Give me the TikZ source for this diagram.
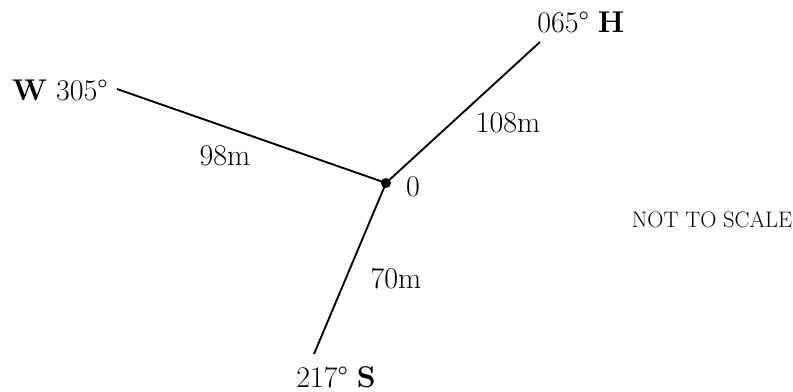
\documentclass[tikz,border=0pt]{standalone}
\usepackage{fontspec}
\begin{document}
\begin{tikzpicture}[x=0.75pt,y=-0.75pt,
  lbl/.style={inner sep=0pt,font=\fontsize{22.5}{26}\selectfont},
  small/.style={inner sep=0pt,font=\fontsize{16.8}{19}\selectfont},
  leg/.style={line width=1.4pt}]
\useasboundingbox (0,0) rectangle (793,392);
\coordinate (O) at (386,183);
\coordinate (H) at (540,42);
\coordinate (W) at (117,89);
\coordinate (S) at (314,354);
\draw[leg] (O) -- (H);
\draw[leg] (O) -- (W);
\draw[leg] (O) -- (S);
\fill (O) circle (5);
\node[lbl,anchor=west] (hl) at (537,22) {065° \textbf{H}};
\node[lbl,anchor=east] (wl) at (108,90) {\textbf{W} 305°};
\node[lbl] (sl) at (336,377) {217° \textbf{S}};
\node[lbl] (hd) at (508,123) {108m};
\node[lbl] (wd) at (225,156) {98m};
\node[lbl] (sd) at (396,279) {70m};
\node[lbl] (ol) at (413,187) {0};
\node[small] (nts) at (712,220) {NOT TO SCALE};
\end{tikzpicture}
\end{document}
